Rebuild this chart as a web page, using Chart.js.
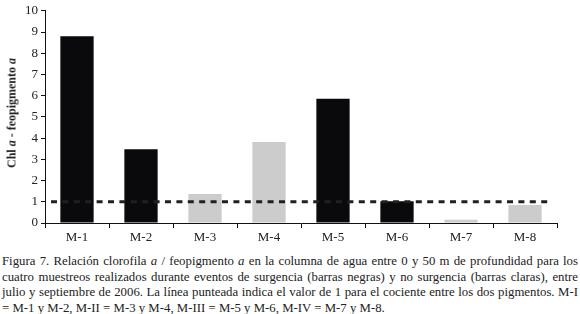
<!DOCTYPE html>
<html><head><meta charset="utf-8">
<script src="https://cdn.jsdelivr.net/npm/chart.js@4/dist/chart.umd.min.js"></script>
<style>
html,body{margin:0;padding:0;background:#fff;width:580px;height:314px;overflow:hidden;}
#wrap{position:relative;width:580px;height:250px;}
#ytitle{position:absolute;left:12px;top:113px;transform:translate(-50%,-50%) rotate(-90deg);font:bold 12px "Liberation Serif","Times New Roman",serif;color:#222;white-space:nowrap;}
#cap{position:absolute;left:2px;top:254px;width:576px;font:12.8px "Liberation Serif","Times New Roman",serif;line-height:15.6px;color:#222;text-align:justify;}
.nw{white-space:nowrap;}
</style></head><body>
<div id="wrap"><canvas id="c" width="580" height="250"></canvas>
<div id="ytitle">Chl <i>a</i> - feopigmento <i>a</i></div></div>
<div id="cap">Figura 7. Relación clorofila <i>a</i> / feopigmento <i>a</i> en la columna de agua entre 0 y 50 m de profundidad para los cuatro muestreos realizados durante eventos de surgencia (barras negras) y no surgencia (barras claras), entre julio y septiembre de 2006. La línea punteada indica el valor de 1 para el cociente entre los dos pigmentos. <span class="nw">M-I</span> = <span class="nw">M-1</span> y <span class="nw">M-2</span>, <span class="nw">M-II</span> = <span class="nw">M-3</span> y <span class="nw">M-4</span>, <span class="nw">M-III</span> = <span class="nw">M-5</span> y <span class="nw">M-6</span>, <span class="nw">M-IV</span> = <span class="nw">M-7</span> y <span class="nw">M-8</span>.</div>
<script>
const categories = ["M-1","M-2","M-3","M-4","M-5","M-6","M-7","M-8"];
const ratios = [8.8, 3.47, 1.37, 3.82, 5.85, 1.02, 0.15, 0.85];
const upwelling = [true, true, false, false, true, true, false, false];
const yTicks = [0,1,2,3,4,5,6,7,8,9,10];
const refValue = 1;

const refLine = {
  id:'refLine',
  afterDatasetsDraw(chart){
    const {ctx, chartArea, scales} = chart;
    const y = scales.y.getPixelForValue(refValue);
    ctx.save();
    ctx.strokeStyle = '#231f20';
    ctx.lineWidth = 3;
    ctx.setLineDash([6,5.4]);
    ctx.beginPath();
    ctx.moveTo(chartArea.left+6, y);
    ctx.lineTo(chartArea.right-5, y);
    ctx.stroke();
    ctx.restore();
  }
};

new Chart(document.getElementById('c'), {
  type:'bar',
  data:{labels:categories, datasets:[{
    data:ratios,
    backgroundColor:upwelling.map(u=>u?'#0a0a0c':'#cccccc'),
    categoryPercentage:1, barPercentage:0.52, borderWidth:0
  }]},
  options:{
    responsive:false, animation:false, devicePixelRatio:1,
    layout:{padding:{left:0,right:23,top:7,bottom:0}},
    plugins:{legend:{display:false},tooltip:{enabled:false}},
    scales:{
      x:{
        offset:true,
        grid:{offset:true, drawOnChartArea:false, drawTicks:true, tickLength:5, color:'#111', lineWidth:1},
        border:{display:true,color:'#111',width:1},
        ticks:{color:'#222',font:{family:'"Liberation Serif"',size:13},padding:2,maxRotation:0},
        afterFit(s){s.height=27;}
      },
      y:{
        min:0,max:10,
        afterBuildTicks(s){s.ticks = yTicks.map(v=>({value:v}));},
        grid:{drawOnChartArea:false, drawTicks:true, tickLength:4, color:'#111'},
        border:{display:true,color:'#111',width:1},
        ticks:{color:'#222',font:{family:'"Liberation Serif"',size:13},padding:3},
        afterFit(s){s.width=45;}
      }
    }
  },
  plugins:[refLine]
});
</script>
</body></html>
